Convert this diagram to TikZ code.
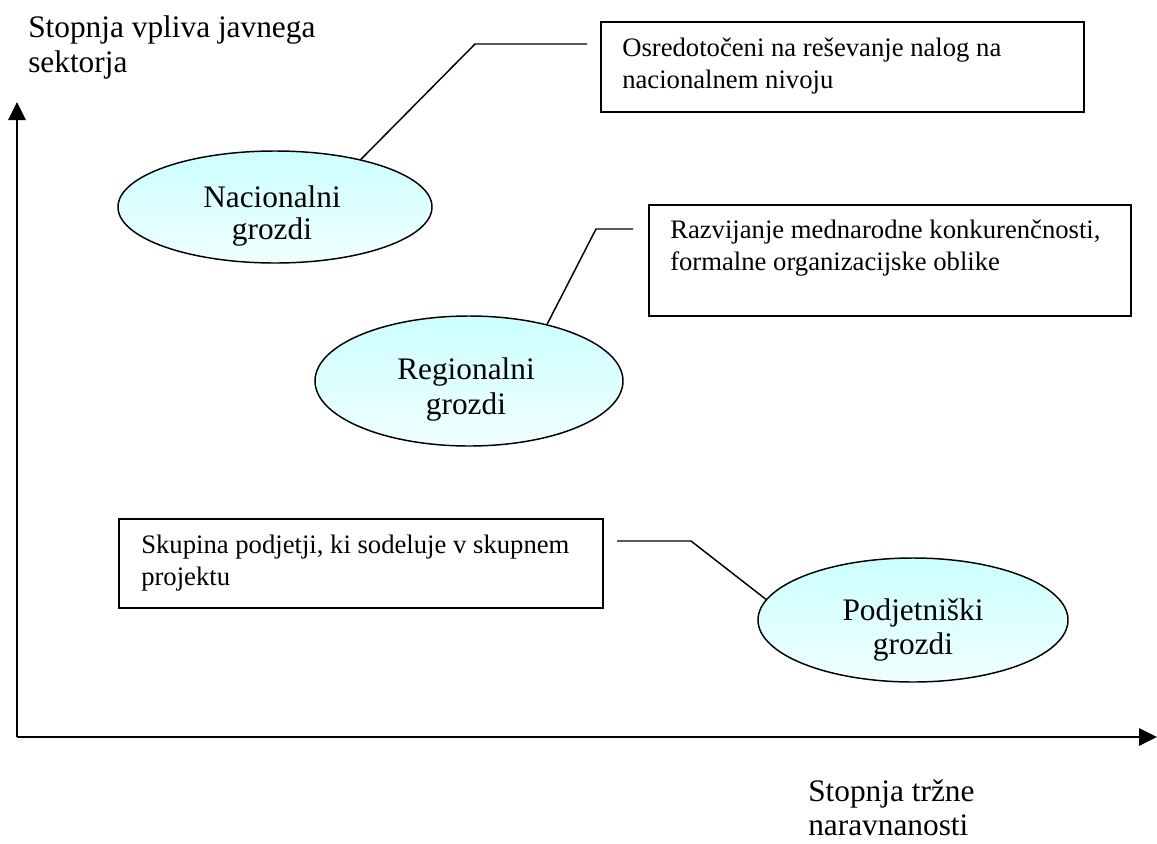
\documentclass[tikz,border=0pt]{standalone}
\usepackage{fontspec}
\setmainfont{Liberation Serif}
\usetikzlibrary{arrows.meta,shapes.geometric}
\definecolor{cloudtop}{RGB}{204,255,255}
\definecolor{cloudbot}{RGB}{240,255,255}
\begin{document}
\begin{tikzpicture}[x=0.75pt,y=-0.75pt,
  axis/.style={line width=1.5pt,-{Triangle[length=13.5pt,width=13pt]}},
  notebox/.style={draw,line width=1.2pt,rectangle,inner sep=0pt,anchor=north west},
  notetext/.style={anchor=base west,inner sep=0pt,font=\fontsize{20}{24}\selectfont},
  cluster/.style={ellipse,draw,line width=1.1pt,inner sep=0pt,
    top color=cloudtop,bottom color=cloudbot},
  clustertext/.style={anchor=base,inner sep=0pt,font=\fontsize{23.5}{28}\selectfont},
  axistext/.style={anchor=base west,inner sep=0pt,font=\fontsize{23.5}{28}\selectfont},
  leader/.style={line width=1.1pt}]

% page frame
\fill[white] (0,0) rectangle (1157,843);
\useasboundingbox (0,0) rectangle (1157,843);

% axes
\coordinate (origin) at (17,737);
\coordinate (ytip) at (17,102);
\coordinate (xtip) at (1157,737);
\draw[axis] (origin) -- (ytip);
\draw[axis] (origin) -- (xtip);

% axis captions
\node[axistext] (ylab1) at (28,37) {Stopnja vpliva javnega};
\node[axistext] (ylab2) at (28,72) {sektorja};
\node[axistext] (xlab1) at (808,801) {Stopnja tržne};
\node[axistext] (xlab2) at (808,835) {naravnanosti};

% clusters
\node[cluster,minimum width=235.5pt,minimum height=84pt] (e1) at (275,207) {};
\node[clustertext] (e1a) at (272,207) {Nacionalni};
\node[clustertext] (e1b) at (272,239) {grozdi};

\node[cluster,minimum width=231pt,minimum height=97.5pt] (e2) at (469,381) {};
\node[clustertext] (e2a) at (466,379) {Regionalni};
\node[clustertext] (e2b) at (466,414) {grozdi};

\node[cluster,minimum width=232.5pt,minimum height=93pt] (e3) at (913,620) {};
\node[clustertext] (e3a) at (913,620) {Podjetniški};
\node[clustertext] (e3b) at (913,654) {grozdi};

% notes
\node[notebox,minimum width=362.25pt,minimum height=67.5pt] (b1) at (600,21) {};
\node[notetext] (b1a) at (622,56) {Osredotočeni na reševanje nalog na};
\node[notetext] (b1b) at (622,88) {nacionalnem nivoju};

\node[notebox,minimum width=361.5pt,minimum height=83.25pt] (b2) at (648,204) {};
\node[notetext] (b2a) at (670,238) {Razvijanje mednarodne konkurenčnosti,};
\node[notetext] (b2b) at (670,270) {formalne organizacijske oblike};

\node[notebox,minimum width=363pt,minimum height=66.75pt] (b3) at (118,518) {};
\node[notetext] (b3a) at (141,553) {Skupina podjetji, ki sodeluje v skupnem};
\node[notetext] (b3b) at (141,585) {projektu};

% leader lines
\coordinate (k1) at (475,44);
\coordinate (l1) at (587,44);
\draw[leader] (e1.29) -- (k1) -- (l1);

\coordinate (k2) at (596,229);
\coordinate (l2) at (633,229);
\draw[leader] (e2.36) -- (k2) -- (l2);

\coordinate (k3) at (691,541);
\coordinate (l3) at (617,541);
\draw[leader] (l3) -- (k3) -- (e3.172);
\end{tikzpicture}
\end{document}
